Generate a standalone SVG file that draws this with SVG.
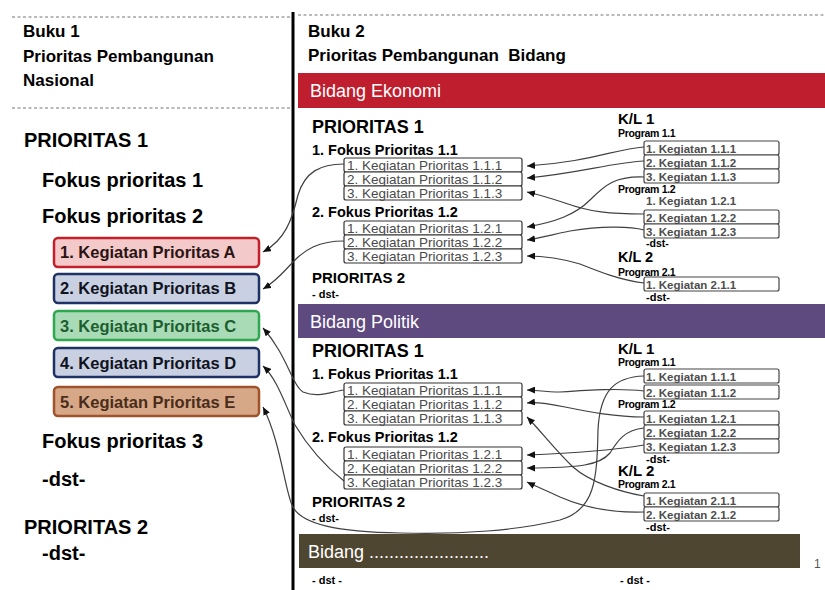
<svg xmlns="http://www.w3.org/2000/svg" width="825" height="590" viewBox="0 0 825 590">
<style>
.t{font-family:"Liberation Sans",Arial,sans-serif;font-weight:bold;fill:#000}
.hd{font-size:17px}
.big{font-size:20px}
.lk{font-size:16.5px;font-weight:bold;font-family:"Liberation Sans",Arial,sans-serif}
.p1{font-size:18px}
.p2{font-size:15px}
.fk{font-size:14.5px}
.ds{font-size:11px}
.kl{font-size:15px}
.pg{font-size:10.5px;letter-spacing:-0.3px}
.bar{font-family:"Liberation Sans",Arial,sans-serif;font-size:18px;fill:#fff}
.kp{fill:#fff;stroke:#333;stroke-width:1.2}
.kpt{font-family:"Liberation Sans",Arial,sans-serif;font-size:13.5px;fill:#4a4a4a}
.kk{fill:#fff;stroke:#444;stroke-width:1.2}
.kkt{font-family:"Liberation Sans",Arial,sans-serif;font-size:11.5px;font-weight:bold;fill:#4d4d4d}
.dash{stroke:#777;stroke-width:1.2;stroke-dasharray:3,2.5}
.c path{fill:none;stroke:#404040;stroke-width:1.2}
</style>
<defs>
<marker id="ah" markerUnits="userSpaceOnUse" markerWidth="9" markerHeight="7" refX="8" refY="3.5" orient="auto">
<path d="M0,0 L8,3.5 L0,7 z" fill="#111"/>
</marker>
</defs>

<!-- frame lines -->
<line class="dash" x1="12" y1="17" x2="290" y2="17"/>
<line class="dash" x1="12" y1="108" x2="290" y2="108"/>
<line class="dash" x1="298" y1="15" x2="825" y2="15"/>
<line x1="293" y1="12" x2="293" y2="590" stroke="#000" stroke-width="3"/>

<!-- left column -->
<g id="buku1">
<text class="t hd" x="23" y="37">Buku 1</text>
<text class="t hd" x="23" y="62">Prioritas Pembangunan</text>
<text class="t hd" x="23" y="86">Nasional</text>
</g>
<g id="prioritas1-left">
<text class="t big" x="24" y="147">PRIORITAS 1</text>
<text class="t big" x="42" y="187">Fokus prioritas 1</text>
<text class="t big" x="42" y="223">Fokus prioritas 2</text>
</g>
<g id="kegA">
<rect x="54" y="238" width="205" height="29" rx="4" fill="#f4c9c9" stroke="#c1212b" stroke-width="2.5"/>
<text class="lk" x="60" y="258" fill="#2a1414">1. Kegiatan Prioritas A</text>
</g>
<g id="kegB">
<rect x="54" y="274" width="205" height="29" rx="4" fill="#c8d0e2" stroke="#1f3263" stroke-width="2.5"/>
<text class="lk" x="60" y="294" fill="#10131e">2. Kegiatan Prioritas B</text>
</g>
<g id="kegC">
<rect x="54" y="311" width="205" height="29" rx="4" fill="#a9dcb6" stroke="#2fa750" stroke-width="2.5"/>
<text class="lk" x="60" y="332" fill="#1d5e31">3. Kegiatan Prioritas C</text>
</g>
<g id="kegD">
<rect x="54" y="348" width="205" height="29" rx="4" fill="#c8d0e2" stroke="#1f3263" stroke-width="2.5"/>
<text class="lk" x="60" y="369" fill="#10131e">4. Kegiatan Prioritas D</text>
</g>
<g id="kegE">
<rect x="54" y="387" width="205" height="29" rx="4" fill="#d6a888" stroke="#a0532b" stroke-width="2.5"/>
<text class="lk" x="60" y="408" fill="#4a2c1a">5. Kegiatan Prioritas E</text>
</g>
<g id="rest-left">
<text class="t big" x="42" y="448">Fokus prioritas 3</text>
<text class="t big" x="42" y="486">-dst-</text>
<text class="t big" x="24" y="534">PRIORITAS 2</text>
<text class="t big" x="42" y="560">-dst-</text>
</g>

<!-- right column header -->
<g id="buku2">
<text class="t hd" x="308" y="37">Buku 2</text>
<text class="t hd" x="308" y="61" xml:space="preserve">Prioritas Pembangunan  Bidang</text>
</g>

<!-- Bidang Ekonomi -->
<g id="bar-ekonomi">
<rect x="298" y="73" width="527" height="35" fill="#be1e2d"/>
<text class="bar" x="310" y="97">Bidang Ekonomi</text>
</g>
<g id="eko-prioritas">
<text class="t p1" x="312" y="133">PRIORITAS 1</text>
<text class="t fk" x="312" y="155">1. Fokus Prioritas 1.1</text>
<rect class="kp" x="344" y="158" width="178" height="14" rx="2"/>
<text class="kpt" x="347" y="169.5">1. Kegiatan Prioritas 1.1.1</text>
<rect class="kp" x="344" y="172" width="178" height="14" rx="2"/>
<text class="kpt" x="347" y="183.5">2. Kegiatan Prioritas 1.1.2</text>
<rect class="kp" x="344" y="186" width="178" height="14" rx="2"/>
<text class="kpt" x="347" y="197.5">3. Kegiatan Prioritas 1.1.3</text>
<text class="t fk" x="312" y="217">2. Fokus Prioritas 1.2</text>
<rect class="kp" x="344" y="221" width="178" height="14" rx="2"/>
<text class="kpt" x="347" y="232.5">1. Kegiatan Prioritas 1.2.1</text>
<rect class="kp" x="344" y="235" width="178" height="14" rx="2"/>
<text class="kpt" x="347" y="246.5">2. Kegiatan Prioritas 1.2.2</text>
<rect class="kp" x="344" y="249" width="178" height="14" rx="2"/>
<text class="kpt" x="347" y="260.5">3. Kegiatan Prioritas 1.2.3</text>
<text class="t p2" x="312" y="283">PRIORITAS 2</text>
<text class="t ds" x="312" y="298">- dst-</text>
</g>
<g id="eko-kl">
<text class="t kl" x="618" y="124">K/L 1</text>
<text class="t pg" x="618" y="137">Program 1.1</text>
<rect class="kk" x="644" y="141" width="135" height="14" rx="2"/>
<text class="kkt" x="646" y="152.5">1. Kegiatan 1.1.1</text>
<rect class="kk" x="644" y="155" width="135" height="14" rx="2"/>
<text class="kkt" x="646" y="166.5">2. Kegiatan 1.1.2</text>
<rect class="kk" x="644" y="169" width="135" height="14" rx="2"/>
<text class="kkt" x="646" y="180.5">3. Kegiatan 1.1.3</text>
<text class="t pg" x="618" y="193">Program 1.2</text>
<text class="kkt" x="646" y="205" fill="#000">1. Kegiatan 1.2.1</text>
<rect class="kk" x="644" y="210" width="135" height="14" rx="2"/>
<text class="kkt" x="646" y="221.5">2. Kegiatan 1.2.2</text>
<rect class="kk" x="644" y="224" width="135" height="14" rx="2"/>
<text class="kkt" x="646" y="235.5">3. Kegiatan 1.2.3</text>
<text class="t" x="646" y="246.5" font-size="10.5">-dst-</text>
<text class="t" x="618" y="262" font-size="14.5">K/L 2</text>
<text class="t pg" x="618" y="275.5">Program 2.1</text>
<rect class="kk" x="644" y="277" width="135" height="14" rx="2"/>
<text class="kkt" x="646" y="288.5">1. Kegiatan 2.1.1</text>
<text class="t ds" x="646" y="301">-dst-</text>
</g>

<!-- Bidang Politik -->
<g id="bar-politik">
<rect x="298" y="304" width="527" height="34" fill="#5e4a7f"/>
<text class="bar" x="310" y="328">Bidang Politik</text>
</g>
<g id="pol-prioritas">
<text class="t p1" x="312" y="357">PRIORITAS 1</text>
<text class="t fk" x="312" y="379">1. Fokus Prioritas 1.1</text>
<rect class="kp" x="344" y="383" width="178" height="14" rx="2"/>
<text class="kpt" x="347" y="394.5">1. Kegiatan Prioritas 1.1.1</text>
<rect class="kp" x="344" y="397" width="178" height="14" rx="2"/>
<text class="kpt" x="347" y="408.5">2. Kegiatan Prioritas 1.1.2</text>
<rect class="kp" x="344" y="411" width="178" height="14" rx="2"/>
<text class="kpt" x="347" y="422.5">3. Kegiatan Prioritas 1.1.3</text>
<text class="t fk" x="312" y="442">2. Fokus Prioritas 1.2</text>
<rect class="kp" x="344" y="447" width="178" height="14" rx="2"/>
<text class="kpt" x="347" y="458.5">1. Kegiatan Prioritas 1.2.1</text>
<rect class="kp" x="344" y="461" width="178" height="14" rx="2"/>
<text class="kpt" x="347" y="472.5">2. Kegiatan Prioritas 1.2.2</text>
<rect class="kp" x="344" y="475" width="178" height="14" rx="2"/>
<text class="kpt" x="347" y="486.5">3. Kegiatan Prioritas 1.2.3</text>
<text class="t p2" x="312" y="507">PRIORITAS 2</text>
<text class="t ds" x="312" y="522">- dst-</text>
</g>
<g id="pol-kl">
<text class="t kl" x="618" y="354">K/L 1</text>
<text class="t pg" x="618" y="366">Program 1.1</text>
<rect class="kk" x="644" y="369" width="135" height="14" rx="2"/>
<text class="kkt" x="646" y="380.5">1. Kegiatan 1.1.1</text>
<rect class="kk" x="644" y="385" width="135" height="14" rx="2"/>
<text class="kkt" x="646" y="396.5">2. Kegiatan 1.1.2</text>
<text class="t pg" x="618" y="408">Program 1.2</text>
<rect class="kk" x="644" y="411" width="135" height="14" rx="2"/>
<text class="kkt" x="646" y="422.5">1. Kegiatan 1.2.1</text>
<rect class="kk" x="644" y="425" width="135" height="14" rx="2"/>
<text class="kkt" x="646" y="436.5">2. Kegiatan 1.2.2</text>
<rect class="kk" x="644" y="439" width="135" height="14" rx="2"/>
<text class="kkt" x="646" y="450.5">3. Kegiatan 1.2.3</text>
<text class="t ds" x="646" y="463">-dst-</text>
<text class="t kl" x="618" y="476">K/L 2</text>
<text class="t pg" x="618" y="488">Program 2.1</text>
<rect class="kk" x="644" y="493" width="135" height="14" rx="2"/>
<text class="kkt" x="646" y="504.5">1. Kegiatan 2.1.1</text>
<rect class="kk" x="644" y="507" width="135" height="14" rx="2"/>
<text class="kkt" x="646" y="518.5">2. Kegiatan 2.1.2</text>
<text class="t ds" x="646" y="531">-dst-</text>
</g>

<!-- Bidang ... -->
<g id="bar-lain">
<rect x="299" y="534" width="501" height="34" fill="#4f4631"/>
<text class="bar" x="308" y="558">Bidang ........................</text>
<text class="t ds" x="312" y="584">- dst -</text>
<text class="t ds" x="620" y="584">- dst -</text>
</g>
<text x="814" y="568" font-family="Liberation Sans, Arial, sans-serif" font-size="12" fill="#555">1</text>

<!-- connectors -->
<g class="c" id="connectors">
<path d="M644,147 C615,149 590,162 527,166" marker-end="url(#ah)"/>
<path d="M644,161 C610,163 580,173 527,178" marker-end="url(#ah)"/>
<path d="M644,177 C615,176 605,185 590,200 C575,215 555,222 527,227" marker-end="url(#ah)"/>
<path d="M644,214 C610,214 590,212 565,203 C550,198 540,195 527,192" marker-end="url(#ah)"/>
<path d="M644,230 C630,226 600,226 570,231 C555,234 540,238 527,240" marker-end="url(#ah)"/>
<path d="M644,283 C620,280 600,272 580,264 C560,258 545,256 527,256" marker-end="url(#ah)"/>
<path d="M344,164 C320,164 305,172 298,195 C292,220 285,240 263,252" marker-end="url(#ah)"/>
<path d="M344,241 C318,241 305,250 295,260 C285,270 278,280 263,289" marker-end="url(#ah)"/>

<path d="M644,376 C615,377 600,390 598,430 C597,480 595,510 560,520 C520,530 460,535 400,533 C340,532 300,525 292,505 C285,490 280,440 263,407" marker-end="url(#ah)"/>
<path d="M644,391 C620,388 590,390 560,392 C545,392 535,390 527,390" marker-end="url(#ah)"/>
<path d="M644,417 C615,417 590,412 565,407 C550,404 535,402 527,403" marker-end="url(#ah)"/>
<path d="M644,428 C625,430 618,440 610,453 C600,465 580,468 527,468" marker-end="url(#ah)"/>
<path d="M644,445 C615,450 580,453 527,455" marker-end="url(#ah)"/>
<path d="M644,496 C620,492 590,482 573,467 C555,450 540,430 527,417" marker-end="url(#ah)"/>
<path d="M644,512 C610,513 585,508 560,497 C545,490 535,486 527,482" marker-end="url(#ah)"/>
<path d="M344,390 C330,392 318,398 303,392 C292,385 287,355 263,328" marker-end="url(#ah)"/>
<path d="M344,481 C330,470 310,450 295,425 C285,405 278,380 263,366" marker-end="url(#ah)"/>
</g>
</svg>
